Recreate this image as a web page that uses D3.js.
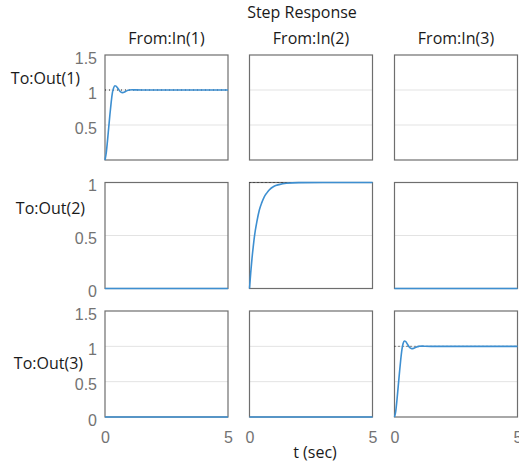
<!DOCTYPE html>
<html>
<head>
<meta charset="utf-8">
<script src="https://d3js.org/d3.v7.min.js"></script>
<style>
  body { margin: 0; background: #fff; }
  .lbl { font-family: "Open Sans", sans-serif; font-size: 16px; fill: #1a1a1a; }
  .tick text { font-family: "Liberation Sans", Arial, sans-serif; font-size: 16px; fill: #737373; }
</style>
</head>
<body>
<svg id="chart" width="519" height="465"></svg>
<script>
// chart data
var title = "Step Response";
var xLabel = "t (sec)";
var inputs = ["From:In(1)", "From:In(2)", "From:In(3)"];
var outputs = ["To:Out(1)", "To:Out(2)", "To:Out(3)"];
var yMax = [1.5, 1, 1.5];
var yTicks = [[0.5, 1, 1.5], [0, 0.5, 1], [0, 0.5, 1, 1.5]];
var xTicks = [0, 5];

// In(1) -> Out(1)
var t11 = [0, 0.05, 0.1, 0.15, 0.2, 0.25, 0.3, 0.35, 0.4, 0.45, 0.5, 0.55, 0.6, 0.65, 0.7, 0.75, 0.8, 0.85, 0.9, 1.0, 1.1, 1.2, 1.5, 2, 3, 4, 5];
var y11 = [0, 0.1, 0.27, 0.46, 0.65, 0.82, 0.96, 1.03, 1.06, 1.055, 1.035, 1.01, 0.985, 0.97, 0.963, 0.965, 0.972, 0.982, 0.991, 1.0, 1.003, 1.002, 1.0, 1, 1, 1, 1];
// In(2) -> Out(2)
var t22 = [0, 0.05, 0.1, 0.15, 0.2, 0.3, 0.4, 0.5, 0.6, 0.7, 0.8, 1.0, 1.2, 1.5, 2, 3, 4, 5];
var y22 = [0, 0.15, 0.28, 0.39, 0.49, 0.63, 0.74, 0.81, 0.865, 0.9, 0.93, 0.965, 0.98, 0.993, 0.999, 1, 1, 1];
// In(3) -> Out(3)
var t33 = [0, 0.05, 0.1, 0.15, 0.2, 0.25, 0.3, 0.35, 0.4, 0.45, 0.5, 0.55, 0.6, 0.65, 0.7, 0.75, 0.8, 0.85, 0.9, 1.0, 1.1, 1.2, 1.5, 2, 3, 4, 5];
var y33 = [0, 0.08, 0.24, 0.43, 0.62, 0.8, 0.95, 1.04, 1.075, 1.07, 1.045, 1.015, 0.99, 0.975, 0.968, 0.968, 0.975, 0.984, 0.992, 1.0, 1.003, 1.002, 1.0, 1, 1, 1, 1];
// zero responses
var tZero = [0, 5];
var yZero = [0, 0];

// which panels have a response and a steady-state line
var responses = [
  [{ t: t11, y: y11, ss: 1 }, null, null],
  [{ t: tZero, y: yZero }, { t: t22, y: y22, ss: 1 }, { t: tZero, y: yZero }],
  [{ t: tZero, y: yZero }, { t: tZero, y: yZero }, { t: t33, y: y33, ss: 1 }]
];

// layout
var colLeft = [105, 249.5, 394.5];
var rowTop = [55, 182.5, 311];
var pw = 123, ph = [105, 106, 106];
var rowLabelPos = [[80, 84], [85, 214], [83, 369]];

var svg = d3.select("#chart");

svg.append("text").attr("class", "lbl")
  .attr("x", 302).attr("y", 18).attr("text-anchor", "middle")
  .text(title);

svg.append("text").attr("class", "lbl")
  .attr("x", 315).attr("y", 458).attr("text-anchor", "middle")
  .text(xLabel);

inputs.forEach(function (s, c) {
  svg.append("text").attr("class", "lbl")
    .attr("x", colLeft[c] + pw / 2).attr("y", 44).attr("text-anchor", "middle")
    .text(s);
});

outputs.forEach(function (s, r) {
  svg.append("text").attr("class", "lbl")
    .attr("x", rowLabelPos[r][0]).attr("y", rowLabelPos[r][1]).attr("text-anchor", "end")
    .text(s);
});

for (var r = 0; r < 3; r++) {
  for (var c = 0; c < 3; c++) {
    var g = svg.append("g").attr("transform", "translate(" + colLeft[c] + "," + rowTop[r] + ")");
    var x = d3.scaleLinear().domain([0, 5]).range([0, pw]);
    var y = d3.scaleLinear().domain([0, yMax[r]]).range([ph[r], 0]);

    // grid lines
    var inner = yTicks[r].filter(function (v) { return v > 0 && v < yMax[r]; });
    g.selectAll("line.grid").data(inner).enter().append("line")
      .attr("class", "grid")
      .attr("x1", 0).attr("x2", pw)
      .attr("y1", function (d) { return y(d); })
      .attr("y2", function (d) { return y(d); })
      .attr("stroke", "#e3e3e3").attr("stroke-width", 1);

    // frame
    g.append("rect").attr("width", pw).attr("height", ph[r])
      .attr("fill", "none").attr("stroke", "#6e6e6e").attr("stroke-width", 1.2);

    var resp = responses[r][c];
    if (resp && resp.ss !== undefined) {
      g.append("line")
        .attr("x1", x(0)).attr("x2", x(5))
        .attr("y1", y(resp.ss)).attr("y2", y(resp.ss))
        .attr("stroke", "#222").attr("stroke-width", 1)
        .attr("stroke-dasharray", "1,3");
    }
    if (resp) {
      var pts = resp.t.map(function (t, i) { return [t, resp.y[i]]; });
      var line = d3.line()
        .x(function (d) { return x(d[0]); })
        .y(function (d) { return y(d[1]); })
        .curve(d3.curveMonotoneX);
      g.append("path").datum(pts)
        .attr("d", line)
        .attr("fill", "none")
        .attr("stroke", "#3d8fd1")
        .attr("stroke-width", 1.6);
    }

    if (c === 0) {
      var ya = g.append("g")
        .call(d3.axisLeft(y).tickValues(yTicks[r]).tickSize(0).tickPadding(8)
          .tickFormat(d3.format("")));
      ya.select(".domain").remove();
      ya.selectAll("text").attr("dy", "0.52em");
    }
    if (r === 2) {
      var xa = g.append("g").attr("transform", "translate(0," + ph[r] + ")")
        .call(d3.axisBottom(x).tickValues(xTicks).tickSize(0).tickPadding(15)
          .tickFormat(d3.format("")));
      xa.select(".domain").remove();
    }
  }
}
</script>
</body>
</html>
